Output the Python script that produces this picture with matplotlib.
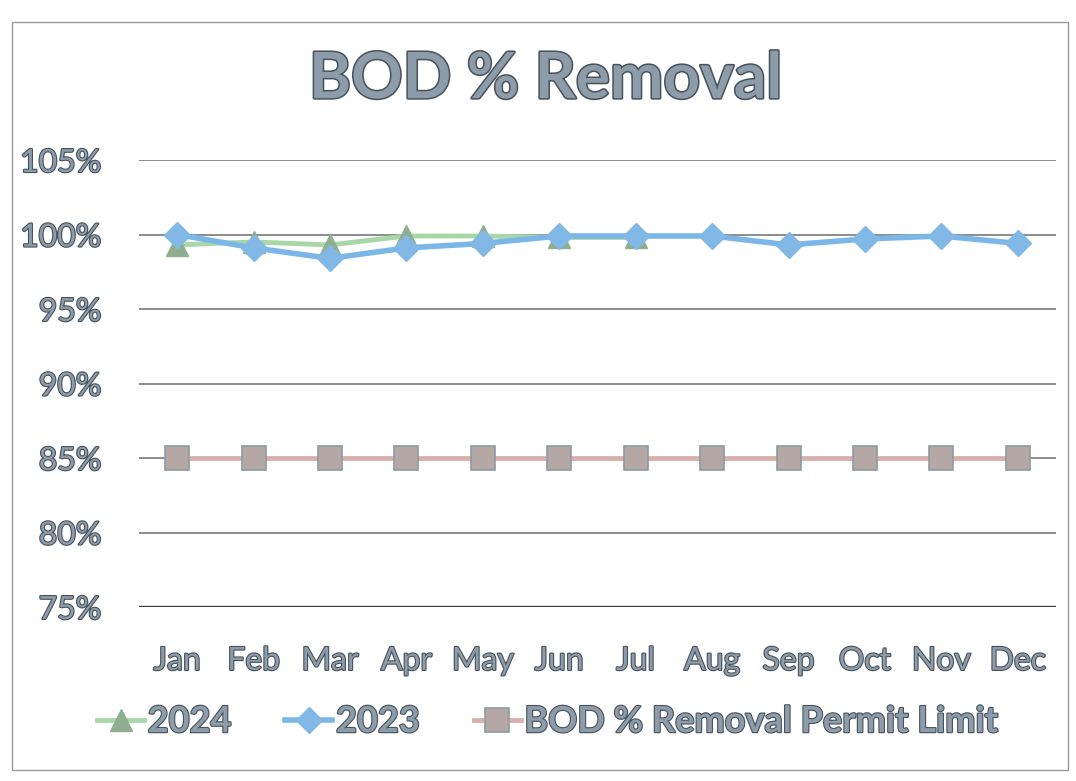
import numpy as np
import matplotlib.pyplot as plt
import matplotlib.patheffects as pe
from matplotlib.patches import Rectangle

months = ["Jan", "Feb", "Mar", "Apr", "May", "Jun", "Jul", "Aug", "Sep", "Oct", "Nov", "Dec"]
y2024 = [99.3, 99.5, 99.3, 99.9, 99.9, 99.8, 99.8]
y2023 = [100.0, 99.1, 98.4, 99.1, 99.4, 99.9, 99.9, 99.9, 99.3, 99.7, 99.9, 99.4]
permit = [85, 85, 85, 85, 85, 85, 85, 85, 85, 85, 85, 85]
yticks = [75, 80, 85, 90, 95, 100, 105]

plt.rcParams['font.family'] = ['Lato', 'DejaVu Sans']

txt_color = '#8d9ca8'
outline = [pe.withStroke(linewidth=1.6, foreground='#46525e')]

fig = plt.figure(figsize=(10.76, 7.81), dpi=100)
ax = fig.add_axes([139 / 1076, 1 - 607 / 781, (1056 - 139) / 1076, (607 - 160) / 781])

x = np.arange(len(months))

ax.plot(x[:len(y2024)], y2024, color='#a8d8a8', lw=3.5, marker='^', ms=16,
        mfc='#8fae90', mec='#8fae90', label='2024', zorder=3)
ax.plot(x, y2023, color='#7ab6e8', lw=4, marker='D', ms=13,
        mfc='#82b8e6', mec='#82b8e6', label='2023', zorder=4)
ax.plot(x, permit, color='#d8b0ae', lw=3.5, marker='s', ms=17,
        mfc='#b5a7a4', mec='#8a9ca4', mew=1.2, label='BOD % Removal Permit Limit', zorder=3)

ax.set_xlim(-0.5, 11.5)
ax.set_ylim(75, 105)
ax.set_yticks(yticks)
ax.set_yticklabels([f"{v}%" for v in yticks])
ax.set_xticks(x)
ax.set_xticklabels(months)

for v in yticks[1:]:
    ax.axhline(v, color='#6e6e6e', lw=1.1, zorder=1)
ax.axhline(75, color='#3a3a3a', lw=2.4, zorder=2)

for s in ax.spines.values():
    s.set_visible(False)
ax.tick_params(length=0)
ax.tick_params(axis='y', pad=27)
ax.tick_params(axis='x', pad=28)
for lab in ax.get_xticklabels() + ax.get_yticklabels():
    lab.set_fontsize(23)
    lab.set_color(txt_color)
    lab.set_path_effects(outline)

fig.text(0.507, 0.898, "BOD % Removal", ha='center', va='center', fontsize=46,
         fontweight='bold', color=txt_color,
         path_effects=[pe.withStroke(linewidth=2.2, foreground='#46525e')])

leg = fig.legend(loc='center', bbox_to_anchor=(0.509, 0.076), ncol=3, frameon=False,
                 fontsize=26, handlelength=1.3, handletextpad=0.1, columnspacing=1.5)
for t in leg.get_texts():
    t.set_color(txt_color)
    t.set_fontweight('bold')
    t.set_path_effects(outline)

fig.patches.append(Rectangle((12 / 1076, 1 - 770 / 781), (1068 - 12) / 1076, (770 - 22) / 781,
                             transform=fig.transFigure, fill=False, ec='#999999', lw=1.0))

fig.savefig("out.png", dpi=100)
